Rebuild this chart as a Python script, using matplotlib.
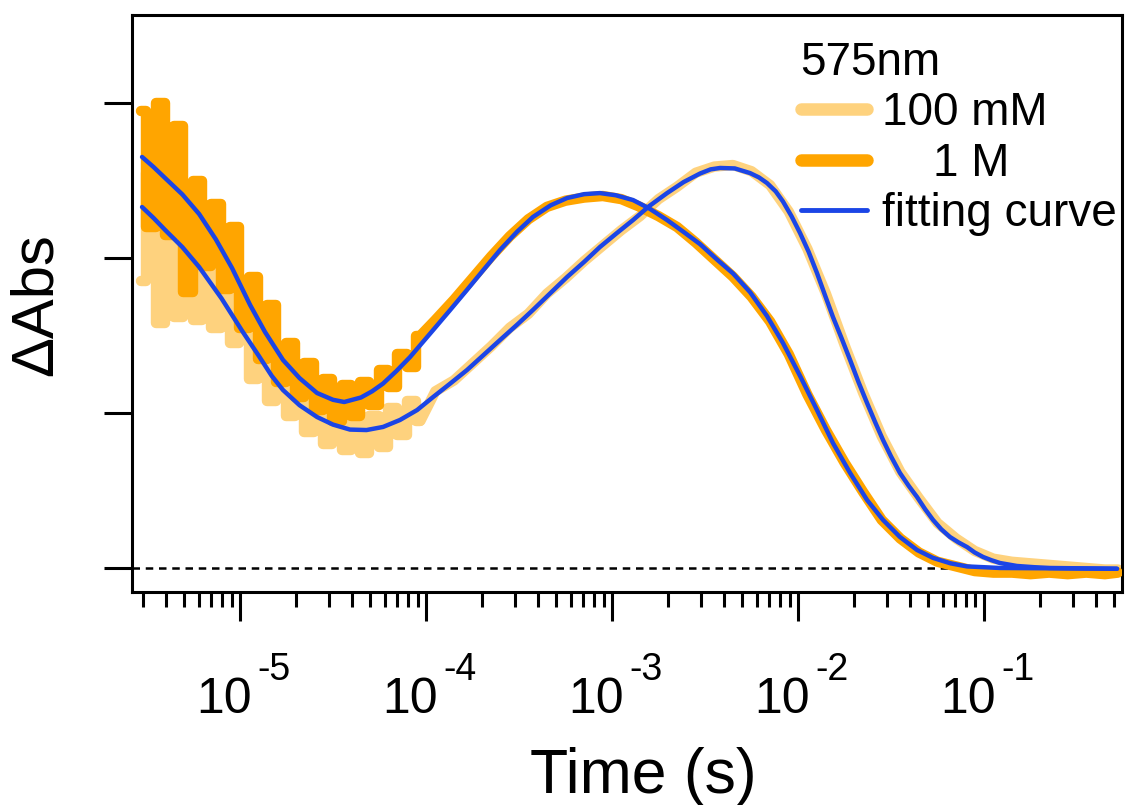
import numpy as np
import matplotlib
matplotlib.use('Agg')
import matplotlib.pyplot as plt
from matplotlib.lines import Line2D
from matplotlib.ticker import LogLocator, NullFormatter

plt.rcParams['font.family'] = ['Liberation Sans', 'DejaVu Sans']

# ---------------- data (log10 of time in s, ΔAbs in arbitrary units) ----------------
log_t_data = [-5.53, -5.48, -5.43, -5.38, -5.33, -5.28, -5.23, -5.18, -5.13, -5.08,
              -5.03, -4.98, -4.93, -4.88, -4.83, -4.78, -4.73, -4.68, -4.63, -4.58,
              -4.53, -4.48, -4.43, -4.38, -4.33, -4.28, -4.23, -4.18, -4.13, -4.08,
              -4.03,
              -3.95, -3.85, -3.75, -3.65, -3.55, -3.45, -3.35, -3.25, -3.15, -3.05,
              -2.95, -2.85, -2.75, -2.65, -2.55, -2.45, -2.35, -2.25, -2.15, -2.05,
              -1.95, -1.85, -1.75, -1.65, -1.55, -1.45, -1.35, -1.25, -1.15, -1.05,
              -0.95, -0.85, -0.75, -0.65, -0.55, -0.45, -0.35, -0.28]
n_noisy = 31   # first points recorded with the coarse, noisy early-time sampling

data_100mM = [1.85, 2.55, 1.58, 2.40, 1.62, 2.25, 1.60, 2.10, 1.55, 1.85,
              1.45, 1.65, 1.22, 1.45, 1.08, 1.28, 0.98, 1.15, 0.88, 1.05,
              0.80, 1.00, 0.76, 1.02, 0.74, 0.98, 0.78, 1.03, 0.86, 1.08,
              0.95,
              1.14, 1.21, 1.32, 1.43, 1.55, 1.64, 1.77, 1.87, 1.98, 2.08,
              2.18, 2.27, 2.38, 2.46, 2.55, 2.59, 2.60, 2.56, 2.47, 2.30,
              2.06, 1.77, 1.44, 1.13, 0.85, 0.62, 0.45, 0.29, 0.19, 0.11,
              0.06, 0.04, 0.03, 0.02, 0.01, 0.00, -0.01, -0.01]

data_1M = [2.95, 2.20, 3.00, 2.15, 2.85, 1.78, 2.50, 1.95, 2.35, 1.80,
           2.20, 1.55, 1.88, 1.35, 1.70, 1.20, 1.45, 1.10, 1.32, 1.02,
           1.22, 0.95, 1.18, 0.98, 1.20, 1.05, 1.28, 1.17, 1.38, 1.30,
           1.50,
           1.60, 1.73, 1.87, 2.01, 2.14, 2.25, 2.33, 2.37, 2.39, 2.40,
           2.38, 2.33, 2.27, 2.20, 2.10, 1.99, 1.88, 1.75, 1.59, 1.38,
           1.12, 0.89, 0.68, 0.49, 0.31, 0.19, 0.10, 0.04, 0.01, -0.02,
           -0.03, -0.03, -0.04, -0.03, -0.04, -0.03, -0.04, -0.03]

fit_1M_logt = [-5.527, -5.465, -5.403, -5.31, -5.220, -5.13, -5.043, -4.946, -4.866,
               -4.769, -4.68, -4.586, -4.50, -4.44, -4.35, -4.29, -4.231, -4.16,
               -4.086, -3.962, -3.87, -3.780, -3.69, -3.602, -3.51, -3.425, -3.33,
               -3.242, -3.15, -3.065, -2.98, -2.887, -2.80, -2.704, -2.615, -2.527,
               -2.44, -2.349, -2.258, -2.167, -2.081, -1.989, -1.898, -1.812, -1.720,
               -1.629, -1.543, -1.452, -1.360, -1.274, -1.18, -1.091, -0.914, -0.285]
fit_1M = [2.652, 2.587, 2.516, 2.410, 2.284, 2.120, 1.935, 1.697, 1.523,
          1.342, 1.225, 1.129, 1.085, 1.071, 1.100, 1.140, 1.190, 1.270,
          1.361, 1.535, 1.665, 1.794, 1.925, 2.052, 2.170, 2.265, 2.340,
          2.387, 2.412, 2.419, 2.405, 2.374, 2.320, 2.245, 2.168, 2.090,
          1.995, 1.900, 1.780, 1.626, 1.452, 1.239, 1.019, 0.806, 0.613,
          0.439, 0.310, 0.200, 0.116, 0.065, 0.030, 0.010, 0.000, -0.005]

fit_100mM_logt = [-5.527, -5.465, -5.403, -5.31, -5.220, -5.10, -4.989, -4.90, -4.83,
                  -4.769, -4.68, -4.586, -4.50, -4.409, -4.32, -4.231, -4.14, -4.048,
                  -3.962, -3.87, -3.780, -3.69, -3.602, -3.51, -3.425, -3.33, -3.242,
                  -3.15, -3.065, -2.975, -2.887, -2.80, -2.704, -2.615, -2.527, -2.47,
                  -2.419, -2.34, -2.258, -2.21, -2.167, -2.12, -2.081, -2.035, -1.989,
                  -1.943, -1.898, -1.855, -1.812, -1.765, -1.720, -1.675, -1.629, -1.585,
                  -1.543, -1.50, -1.452, -1.405, -1.360, -1.317, -1.274, -1.23, -1.183,
                  -1.137, -1.091, -1.05, -1.005, -0.96, -0.914, -0.823, -0.73, -0.645,
                  -0.285]
fit_100mM = [2.329, 2.258, 2.181, 2.070, 1.942, 1.740, 1.530, 1.370, 1.240,
             1.148, 1.050, 0.974, 0.925, 0.893, 0.890, 0.910, 0.955, 1.019,
             1.103, 1.190, 1.277, 1.375, 1.471, 1.570, 1.665, 1.775, 1.877,
             1.975, 2.071, 2.160, 2.245, 2.335, 2.419, 2.490, 2.545, 2.572,
             2.581, 2.578, 2.548, 2.520, 2.484, 2.430, 2.365, 2.270, 2.161,
             2.040, 1.903, 1.760, 1.619, 1.480, 1.342, 1.200, 1.065, 0.940,
             0.826, 0.720, 0.613, 0.530, 0.458, 0.380, 0.310, 0.250, 0.200,
             0.165, 0.135, 0.100, 0.071, 0.050, 0.032, 0.013, 0.005, 0.000,
             -0.005]

major_exponents = [-5, -4, -3, -2, -1]
y_ticks = [0, 1, 2, 3]

LIGHT = '#FED27E'
DARK = '#FFA500'
BLUE = '#1B45E6'

# ---------------- figure ----------------
W, H = 1126, 805
fig = plt.figure(figsize=(W / 100, H / 100), dpi=100)
ax = fig.add_axes([132 / W, 1 - 592 / H, (1122 - 132) / W, (592 - 15) / H])

t_data = 10 ** np.array(log_t_data)
for series, col, z in [(data_100mM, LIGHT, 2), (data_1M, DARK, 3)]:
    y = np.array(series)
    kw = dict(color=col, lw=7.5, solid_joinstyle='round', solid_capstyle='round', zorder=z)
    ax.plot(t_data[:n_noisy], y[:n_noisy], drawstyle='steps-mid', **kw)
    ax.plot(t_data[n_noisy - 1:], y[n_noisy - 1:], **kw)

ax.plot(10 ** np.array(fit_100mM_logt), fit_100mM, color=BLUE, lw=3.2,
        solid_capstyle='round', solid_joinstyle='round', zorder=4)
ax.plot(10 ** np.array(fit_1M_logt), fit_1M, color=BLUE, lw=3.2,
        solid_capstyle='round', solid_joinstyle='round', zorder=4)
ax.axhline(0, color='black', lw=1.8, ls=(0, (3, 2.3)), zorder=1)

ax.set_xscale('log')
ax.set_xlim(10 ** -5.581, 10 ** -0.258)
ax.set_ylim(-0.155, 3.568)

ax.set_yticks(y_ticks)
ax.set_yticklabels([])
ax.tick_params(axis='y', direction='out', length=20, width=2.2)
ax.xaxis.set_major_locator(LogLocator(base=10, numticks=20))
ax.xaxis.set_minor_locator(LogLocator(base=10, subs=np.arange(2, 10), numticks=20))
ax.xaxis.set_major_formatter(NullFormatter())
ax.xaxis.set_minor_formatter(NullFormatter())
ax.tick_params(axis='x', which='major', direction='out', length=21, width=2.2)
ax.tick_params(axis='x', which='minor', direction='out', length=11, width=2.2)
for s in ax.spines.values():
    s.set_linewidth(2.2)

for e in major_exponents:
    ax.annotate('10', xy=(10.0 ** e, 0), xycoords=('data', 'axes fraction'),
                xytext=(8.6, -87), textcoords='offset points',
                ha='right', va='baseline', fontsize=36)
    ax.annotate(str(e), xy=(10.0 ** e, 0), xycoords=('data', 'axes fraction'),
                xytext=(12.2, -63), textcoords='offset points',
                ha='left', va='baseline', fontsize=27)

fig.text(643 / W, 1 - 793 / H, 'Time (s)', ha='center', va='baseline', fontsize=45)
fig.text(36 / W, 1 - 305 / H, 'ΔAbs', rotation=90, ha='center', va='center', fontsize=43)

handles = [Line2D([], [], color=LIGHT, lw=9, solid_capstyle='round'),
           Line2D([], [], color=DARK, lw=9, solid_capstyle='round'),
           Line2D([], [], color=BLUE, lw=3.5, solid_capstyle='round')]
labels = ['100 mM', '    1 M', 'fitting curve']
leg = ax.legend(handles, labels, title='575nm', loc='upper right',
                bbox_to_anchor=(1117 / W, 1 - 41 / H), bbox_transform=fig.transFigure,
                frameon=False, fontsize=33, title_fontsize=33, handlelength=1.45,
                handletextpad=0.33, labelspacing=0.14, borderpad=0, borderaxespad=0,
                alignment='left')

fig.savefig('out.png', dpi=100)
